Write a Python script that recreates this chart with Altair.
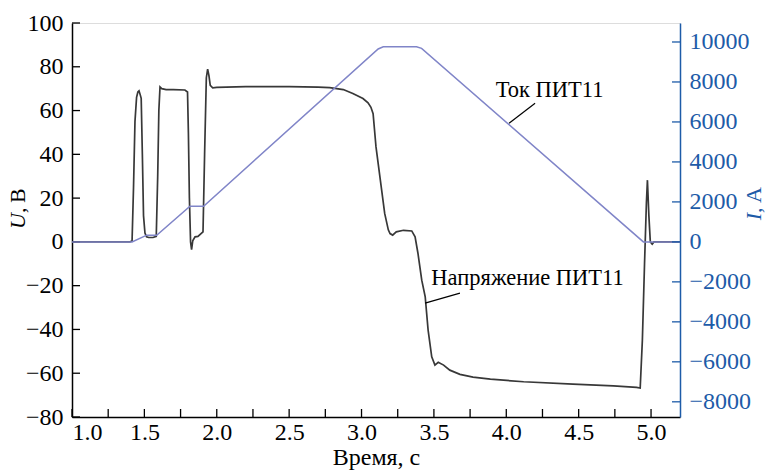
import altair as alt
import pandas as pd

# ---- data ----
t_volt = [1.00, 1.40, 1.415, 1.425, 1.435, 1.446, 1.455, 1.463, 1.470, 1.478, 1.486, 1.494, 1.504,
          1.515, 1.53, 1.56, 1.582, 1.592, 1.600, 1.608, 1.62, 1.65, 1.70, 1.78, 1.798, 1.804,
          1.811, 1.819, 1.826, 1.834, 1.85, 1.87, 1.905, 1.916, 1.928, 1.937, 1.946, 1.955,
          1.972, 2.0, 2.2, 2.5, 2.7, 2.78, 2.874, 2.94, 3.01, 3.045, 3.065, 3.08, 3.10, 3.13,
          3.16, 3.185, 3.197, 3.215, 3.24, 3.29, 3.347, 3.37, 3.39, 3.416, 3.44, 3.46, 3.485,
          3.507, 3.53, 3.567, 3.61, 3.68, 3.77, 3.89, 4.12, 4.46, 4.74, 4.90, 4.925, 4.94,
          4.955, 4.968, 4.975, 4.985, 4.995, 5.008, 5.02, 5.2]
u_volt = [0.0, 0.0, 0.5, 25, 55, 66, 68.5, 69.0, 67.5, 65.6, 40, 12, 4,
          2.3, 2.0, 2.0, 2.5, 30, 60, 70.8, 70.0, 69.6, 69.6, 69.4, 68.5, 50,
          20, 0, -3.5, 0.5, 2.3, 2.5, 4.6, 40, 75, 78.9, 76, 71.5,
          70.4, 70.6, 70.9, 70.9, 70.7, 70.5, 69.6, 67.8, 65.5, 63.5, 61.5, 58.6, 43.4, 28.2,
          13, 5.5, 3.8, 3.1, 4.6, 5.3, 5.0, 2.3, -5.3, -17.5, -25.1, -40.3, -52.5,
          -56.3, -55.0, -56.3, -58.6, -60.5, -61.8, -62.7, -63.9, -65.0, -65.8, -66.5, -66.8, -45,
          -10, 18, 28.2, 12, 0, -1, 0, 0]

t_curr = [1.0, 1.415, 1.516, 1.585, 1.815, 1.909, 3.115, 3.15, 3.38, 3.415, 4.947, 5.2]
i_curr = [0, 0, 335, 335, 1785, 1785, 9650, 9760, 9760, 9680, 0, 0]

x_tick_vals = [1.0, 1.25, 1.5, 1.75, 2.0, 2.25, 2.5, 2.75, 3.0, 3.25, 3.5, 3.75, 4.0,
               4.25, 4.5, 4.75, 5.0]
x_label_vals = [1.0, 1.5, 2.0, 2.5, 3.0, 3.5, 4.0, 4.5, 5.0]
u_tick_vals = [-80, -60, -40, -20, 0, 20, 40, 60, 80, 100]
i_tick_vals = [-8000, -6000, -4000, -2000, 0, 2000, 4000, 6000, 8000, 10000]

ann_text = ["Ток ПИТ11", "Напряжение ПИТ11"]
ann_t = [4.299, 4.147]
ann_u = [69.3, -16.6]
lead_t1 = [4.199, 3.68]
lead_u1 = [63.3, -23.4]
lead_t2 = [4.019, 3.439]
lead_u2 = [54.2, -28.0]

# ---- styling ----
W, H = 608, 394
FONT = "Liberation Serif, Times New Roman, serif"
BLUE = "#1d5ba8"
LAV = "#8085c8"
DARK = "#383838"
TICK = 8
LBL = 24

volt_df = pd.DataFrame({"t": t_volt, "u": u_volt})
curr_df = pd.DataFrame({"t": t_curr, "i": i_curr})
xt_df = pd.DataFrame({"tx": x_tick_vals})
ut_df = pd.DataFrame({"uy": u_tick_vals})
it_df = pd.DataFrame({"iy": i_tick_vals})
ann_df = pd.DataFrame({"label": ann_text, "t": ann_t, "u": ann_u})
lead_df = pd.DataFrame({"t1": lead_t1, "u1": lead_u1, "t2": lead_t2, "u2": lead_u2})
one = pd.DataFrame({"a": [0]})

xscale = alt.Scale(domain=[1.0, 5.2], nice=False, zero=False)
uscale = alt.Scale(domain=[-80, 100], nice=False, zero=False)
iscale = alt.Scale(domain=[-8760, 10950], nice=False, zero=False)

x_axis = alt.Axis(values=x_label_vals, format=".1f", tickSize=0, labelPadding=3,
                  domainColor="black", domainWidth=1.5, labelFont=FONT, labelFontSize=LBL,
                  labelColor="black", title="Время, с", titleFont=FONT, titleFontSize=24,
                  titleFontWeight="normal", titleColor="black", titlePadding=1, grid=False)
u_axis = alt.Axis(values=u_tick_vals, format="d", tickSize=0, labelPadding=9,
                  domainColor="black", domainWidth=1.5, labelFont=FONT, labelFontSize=LBL,
                  labelColor="black", title=None, grid=False)
i_axis = alt.Axis(orient="right", values=i_tick_vals, format="d", tickSize=0, labelPadding=9,
                  domainColor=BLUE, domainWidth=1.5, labelFont=FONT, labelFontSize=LBL,
                  labelColor=BLUE, title=None, grid=False)

volt_line = alt.Chart(volt_df).mark_line(color=DARK, strokeWidth=1.7).encode(
    x=alt.X("t:Q", scale=xscale, axis=x_axis),
    y=alt.Y("u:Q", scale=uscale, axis=u_axis),
)
x_ticks = alt.Chart(xt_df).mark_rule(color="black", strokeWidth=1.3).encode(
    x=alt.X("tx:Q", scale=xscale),
    y=alt.value(H - TICK), y2=alt.value(H),
)
u_ticks = alt.Chart(ut_df).mark_rule(color="black", strokeWidth=1.3).encode(
    y=alt.Y("uy:Q", scale=uscale),
    x=alt.value(0), x2=alt.value(TICK),
)
ann = alt.Chart(ann_df).mark_text(font=FONT, fontSize=22.5, color="black",
                                  align="center", baseline="middle").encode(
    x=alt.X("t:Q", scale=xscale), y=alt.Y("u:Q", scale=uscale), text="label:N")
leads = alt.Chart(lead_df).mark_rule(color="black", strokeWidth=1.2).encode(
    x=alt.X("t1:Q", scale=xscale), x2="t2:Q",
    y=alt.Y("u1:Q", scale=uscale), y2="u2:Q")

u_title1 = alt.Chart(one).mark_text(text="U", font=FONT, fontSize=22, fontStyle="italic",
                                    angle=270, align="right", baseline="middle",
                                    color="black").encode(x=alt.value(-54), y=alt.value(190))
u_title2 = alt.Chart(one).mark_text(text=",\u2009В", font=FONT, fontSize=22,
                                    angle=270, align="left", baseline="middle",
                                    color="black").encode(x=alt.value(-54), y=alt.value(190))

group_u = alt.layer(volt_line, x_ticks, u_ticks, leads, ann, u_title1, u_title2)

curr_line = alt.Chart(curr_df).mark_line(color=LAV, strokeWidth=1.5).encode(
    x=alt.X("t:Q", scale=xscale),
    y=alt.Y("i:Q", scale=iscale, axis=i_axis),
)
i_ticks = alt.Chart(it_df).mark_rule(color=BLUE, strokeWidth=1.3).encode(
    y=alt.Y("iy:Q", scale=iscale),
    x=alt.value(W - TICK), x2=alt.value(W),
)
i_title1 = alt.Chart(one).mark_text(text="I", font=FONT, fontSize=22, fontStyle="italic",
                                    angle=270, align="right", baseline="middle",
                                    color=BLUE).encode(x=alt.value(682), y=alt.value(190))
i_title2 = alt.Chart(one).mark_text(text=",\u2009А", font=FONT, fontSize=22,
                                    angle=270, align="left", baseline="middle",
                                    color=BLUE).encode(x=alt.value(682), y=alt.value(190))

group_i = alt.layer(curr_line, i_ticks, i_title1, i_title2)

chart = alt.layer(group_u, group_i).resolve_scale(y="independent").properties(
    width=W, height=H,
    padding={"left": 72, "top": 23, "right": 87, "bottom": 54},
    autosize=alt.AutoSizeParams(type="none"),
    background="white",
).configure_view(stroke=None).configure(font=FONT)

chart.save("out.html", embed_options={"renderer": "svg", "actions": False})
